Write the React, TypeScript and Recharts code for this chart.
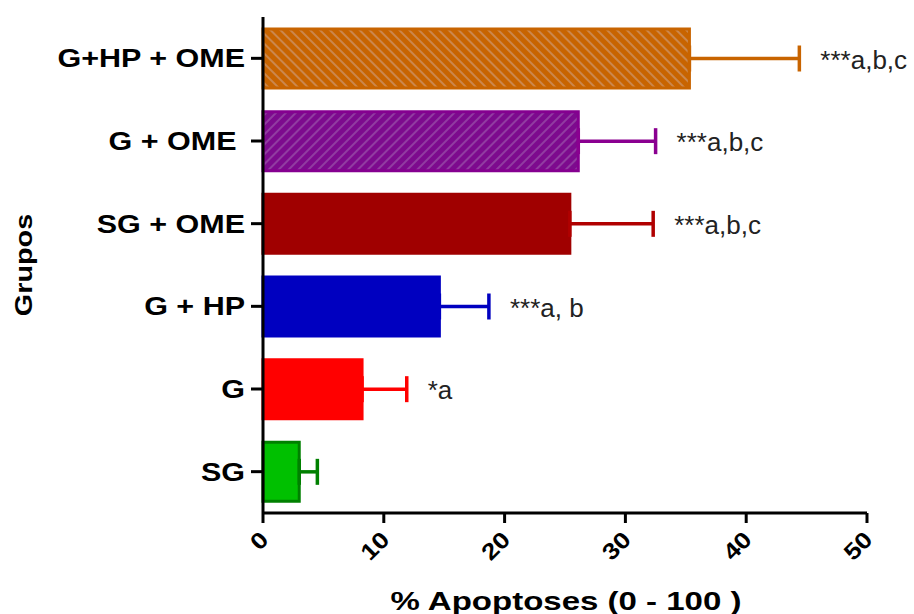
import React from "react";
import { BarChart, Bar, XAxis, YAxis, ErrorBar, LabelList, Label } from "recharts";

const groups = ["G+HP + OME", "G + OME\u00a0", "SG + OME", "G + HP", "G", "SG"];
const means = [35.3, 26.1, 25.4, 14.6, 8.2, 3.0];
const sems = [9.1, 6.4, 6.9, 4.1, 3.7, 1.5];
const notes = ["***a,b,c", "***a,b,c", "***a,b,c", "***a, b", "*a", ""];
const xTicks = [0, 10, 20, 30, 40, 50];

const fills = ["url(#hatchOrange)", "url(#hatchPurple)", "#a00000", "#0000c0", "#ff0000", "#00c000"];
const strokes = ["#c86400", "#850090", "#a00000", "#0000c0", "#ff0000", "#008000"];
const errColors = ["#c86400", "#8a0090", "#b00000", "#0000c0", "#ff0000", "#008000"];

const FONT = "'Liberation Sans', Arial, sans-serif";

const data = groups.map((g, i) => ({
  group: g,
  [`v${i}`]: means[i],
  [`e${i}`]: [0, sems[i]],
}));

const YTick = ({ x, y, payload }: any) => (
  <g transform={`translate(${x},${y})`}>
    <text transform="scale(1.22,1)" textAnchor="end" dy={9} fontSize={25} fontWeight="bold" fontFamily={FONT} fill="#000">
      {payload.value}
    </text>
  </g>
);

const XTick = ({ x, payload }: any) => (
  <g transform={`translate(${x + 7},541)`}>
    <text transform="rotate(-45) scale(1.15,1)" textAnchor="end" fontSize={23} fontWeight="bold" fontFamily={FONT} fill="#000">
      {payload.value}
    </text>
  </g>
);

const noteLabel = (i: number) => (props: any) => {
  const { x, y, width, height } = props;
  if (!width || width < 1 || !notes[i]) return null;
  const end = x + (width * (means[i] + sems[i])) / means[i];
  return (
    <text x={end + 21} y={y + height / 2 + 10} fontSize={26} fontFamily={FONT} fill="#222">
      {notes[i]}
    </text>
  );
};

export default function App() {
  return (
    <div style={{ position: "absolute", left: 0, top: 0, background: "#fff" }}>
      <BarChart
        width={914}
        height={614}
        data={data}
        layout="vertical"
        margin={{ top: 17, right: 47, left: 0, bottom: 0 }}
      >
        <defs>
          <pattern id="hatchOrange" width="7" height="7" patternUnits="userSpaceOnUse" patternTransform="rotate(-45)">
            <rect width="7" height="7" fill="#c86400" />
            <line x1="2" y1="0" x2="2" y2="7" stroke="#cc9060" strokeWidth="1.6" />
          </pattern>
          <pattern id="hatchPurple" width="7" height="7" patternUnits="userSpaceOnUse" patternTransform="rotate(45)">
            <rect width="7" height="7" fill="#7d0a8e" />
            <line x1="2" y1="0" x2="2" y2="7" stroke="#9648a6" strokeWidth="1.6" />
          </pattern>
        </defs>
        {groups.map((g, i) => (
          <Bar
            key={g}
            dataKey={`v${i}`}
            stackId="a"
            barSize={59}
            fill={fills[i]}
            stroke={strokes[i]}
            strokeWidth={3}
            isAnimationActive={false}
          >
            <ErrorBar dataKey={`e${i}`} direction="x" width={13} stroke={errColors[i]} strokeWidth={3.5} />
            <LabelList content={noteLabel(i)} />
          </Bar>
        ))}
        <XAxis
          type="number"
          domain={[0, 50]}
          ticks={xTicks}
          interval={0}
          height={101}
          axisLine={{ stroke: "#000", strokeWidth: 3 }}
          tickLine={{ stroke: "#000", strokeWidth: 3 }}
          tickSize={10}
          tick={<XTick />}
        >
          <Label
            content={() => (
              <g transform="translate(566,610) scale(1.27,1)">
                <text textAnchor="middle" fontSize={26} fontWeight="bold" fontFamily={FONT} fill="#000">
                  % Apoptoses (0 - 100 )
                </text>
              </g>
            )}
          />
        </XAxis>
        <YAxis
          type="category"
          dataKey="group"
          width={263}
          axisLine={{ stroke: "#000", strokeWidth: 3 }}
          tickLine={{ stroke: "#000", strokeWidth: 3 }}
          tickSize={12}
          tickMargin={6}
          tick={<YTick />}
        >
          <Label
            content={() => (
              <g transform="translate(32,265) rotate(-90) scale(1.2,1)">
                <text textAnchor="middle" fontSize={24} fontWeight="bold" fontFamily={FONT} fill="#000">
                  Grupos
                </text>
              </g>
            )}
          />
        </YAxis>
      </BarChart>
    </div>
  );
}
